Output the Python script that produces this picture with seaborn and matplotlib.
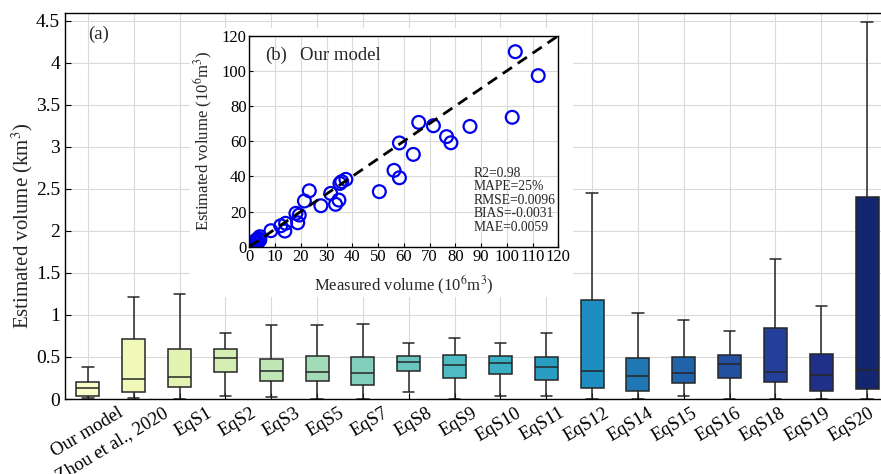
import numpy as np
import pandas as pd
import matplotlib
matplotlib.use("Agg")
import matplotlib.pyplot as plt
from matplotlib.patches import Rectangle
from matplotlib.transforms import ScaledTranslation
import seaborn as sns

# ---------------- data ----------------
categories = ["Our model", "Zhou et al., 2020", "EqS1", "EqS2", "EqS3", "EqS5", "EqS7",
              "EqS8", "EqS9", "EqS10", "EqS11", "EqS12", "EqS14", "EqS15", "EqS16",
              "EqS18", "EqS19", "EqS20"]
v_min = [0.01, 0.01, 0.00, 0.03, 0.02, 0.00, 0.00, 0.08, 0.00, 0.04, 0.035, 0.00,
         0.00, 0.03, 0.00, 0.00, 0.005, 0.00]
v_q1 = [0.036, 0.087, 0.147, 0.325, 0.21, 0.21, 0.17, 0.33, 0.25, 0.30, 0.22, 0.135,
        0.095, 0.19, 0.255, 0.20, 0.095, 0.12]
v_med = [0.127, 0.242, 0.266, 0.485, 0.33, 0.32, 0.31, 0.44, 0.40, 0.425, 0.38, 0.333,
         0.27, 0.31, 0.42, 0.32, 0.28, 0.34]
v_q3 = [0.206, 0.71, 0.595, 0.59, 0.47, 0.51, 0.50, 0.51, 0.52, 0.51, 0.50, 1.18,
        0.49, 0.50, 0.52, 0.845, 0.54, 2.40]
v_max = [0.377, 1.218, 1.246, 0.78, 0.877, 0.88, 0.89, 0.667, 0.72, 0.66, 0.79, 2.45,
         1.02, 0.94, 0.81, 1.67, 1.10, 4.48]

measured = [103.3, 112.2, 102.1, 65.8, 71.5, 85.7, 76.6, 78.3, 58.3, 63.7, 56.2, 58.3,
            50.5, 37.5, 35.9, 35.2, 34.8, 33.5, 31.6, 27.8, 23.3, 21.4, 19.4, 18.1, 18.8,
            14.1, 12.2, 13.8, 8.4, 4.1, 3.5, 2.8, 2.2, 1.6, 0.9, 4.1, 2.8, 1.2, 0.5, 3.3, 2.0]
estimated = [110.9, 97.3, 73.6, 70.7, 68.8, 68.4, 62.6, 59.1, 59.0, 52.5, 43.4, 39.2,
             31.3, 38.3, 37.0, 36.0, 26.5, 24.1, 30.3, 23.3, 31.8, 26.0, 18.0, 19.0, 13.6,
             13.3, 11.9, 8.9, 9.1, 5.7, 4.7, 3.8, 2.8, 2.3, 1.5, 3.8, 1.9, 1.0, 0.6, 2.5, 3.0]

stats_text = "R2=0.98\nMAPE=25%\nRMSE=0.0096\nBIAS=-0.0031\nMAE=0.0059"

# long table: five-number summary per model
rows = []
for c, a, b, m, d, e in zip(categories, v_min, v_q1, v_med, v_q3, v_max):
    for v in (a, b, m, d, e):
        rows.append({"model": c, "volume": v})
df = pd.DataFrame(rows)

# ---------------- style ----------------
sns.set_style("ticks")
plt.rcParams["font.family"] = ["Liberation Serif", "DejaVu Serif"]
plt.rcParams["mathtext.fontset"] = "stix"
plt.rcParams["axes.linewidth"] = 1.0

W, H = 881, 474
fig = plt.figure(figsize=(W / 100, H / 100), dpi=100)

ax = fig.add_axes([65 / W, (H - 399) / H, 825 / W, 385.5 / H])
pal = sns.color_palette("YlGnBu", len(categories))
sns.boxplot(data=df, x="model", y="volume", hue="model", order=categories,
            hue_order=categories, palette=pal, saturation=1, width=0.5, whis=(0, 100),
            linecolor="#262626", linewidth=1.1, legend=False, ax=ax)
ax.set_xlim(-0.5, len(categories) - 0.5)
ax.set_ylim(0, 4.584)
yt = np.arange(0, 4.51, 0.5)
ax.set_yticks(yt)
ax.set_yticklabels([f"{t:g}" for t in yt])
ax.grid(True, color="#dadada", linewidth=0.8)
ax.set_axisbelow(True)
for s in ax.spines.values():
    s.set_visible(True)
    s.set_color("black")
ax.tick_params(axis="both", direction="in", length=4, labelsize=14, colors="black")
ax.tick_params(axis="x", pad=4)
for i, lbl in enumerate(ax.get_xticklabels()):
    lbl.set_rotation(31)
    lbl.set_rotation_mode("anchor")
    lbl.set_ha("right")
    lbl.set_va("top")
    lbl.set_fontsize(13.5)
    dx = (30 - 1.7 * i) / 100.0
    lbl.set_transform(lbl.get_transform() + ScaledTranslation(dx, 0, fig.dpi_scale_trans))
ax.set_xlabel("")
ax.set_ylabel("Estimated volume (km$^3$)", fontsize=15)
ax.yaxis.set_label_coords(-0.036, 0.45)
ax.text(0.028, 0.947, "(a)", transform=ax.transAxes, fontsize=13.5, va="center", ha="left")

# white backing behind inset (covers its labels)
fig.add_artist(Rectangle((190 / W, (H - 297) / H), (573 - 190) / W, (297 - 28) / H,
                         transform=fig.transFigure, facecolor="white", edgecolor="none",
                         zorder=2))

axin = fig.add_axes([249.3 / W, (H - 246.7) / H, 309 / W, 211 / H])
axin.set_zorder(3)
sns.scatterplot(x=measured, y=estimated, ax=axin, s=85, marker="o", color="#0000ee")
pts = axin.collections[0]
pts.set_facecolor("none")
pts.set_edgecolor("#0000ee")
pts.set_linewidth(1.6)
axin.axline((0, 0), slope=1, color="black", linestyle=(0, (4, 2.5)), linewidth=2)
axin.set_xlim(0, 120)
axin.set_ylim(0, 120)
axin.set_xticks(np.arange(0, 121, 10))
axin.set_yticks(np.arange(0, 121, 20))
axin.grid(True, color="#dadada", linewidth=0.8)
axin.set_axisbelow(True)
for s in axin.spines.values():
    s.set_visible(True)
    s.set_color("black")
axin.tick_params(axis="both", direction="in", length=3, labelsize=12, colors="black", pad=2)
axin.set_xlabel("Measured volume (10$^6$m$^3$)", fontsize=12, labelpad=6)
axin.set_ylabel("Estimated volume (10$^6$m$^3$)", fontsize=12, labelpad=5)
axin.text(6, 109, "(b)", fontsize=13.5, va="center", ha="left")
axin.text(19.7, 109, "Our model", fontsize=13.5, va="center", ha="left")
axin.text(87, 45.5, stats_text, fontsize=9.8, va="top", ha="left", linespacing=1.05)

fig.savefig("out.png", dpi=100)
